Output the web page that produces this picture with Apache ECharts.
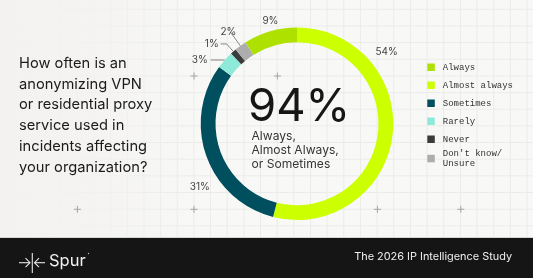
<!DOCTYPE html>
<html>
<head>
<meta charset="utf-8">
<script src="https://cdn.jsdelivr.net/npm/echarts@6/dist/echarts.min.js"></script>
<style>
html, body { margin: 0; padding: 0; }
body {
  width: 533px; height: 278px; overflow: hidden;
  background-color: #f8f8f7;
  background-image:
    linear-gradient(to right, rgba(243,242,240,1) 0px, rgba(243,242,240,0.8) 90px, rgba(243,242,240,0) 200px),
    linear-gradient(to right, #ebebea 1px, transparent 1px),
    linear-gradient(to bottom, #ebebea 1px, transparent 1px);
  background-size: 100% 100%, 16.667px 16.667px, 16.667px 16.667px;
  background-position: 0 0, 10.2px 0, 0 8.8px;
}
#c { width: 533px; height: 278px; }
</style>
</head>
<body>
<div id="c"></div>
<script>
// ---- data ----
const categories = ['Always', 'Almost always', 'Sometimes', 'Rarely', 'Never', "Don't know/Unsure"];
const values = [9, 54, 31, 3, 1, 2];
const headlineValue = '94%';
const headlineCaption = 'Always,\nAlmost Always,\nor Sometimes';
const question = 'How often is an\nanonymizing VPN\nor residential proxy\nservice used in\nincidents affecting\nyour organization?';
const brandName = 'Spur';
const footerTitle = 'The 2026 IP Intelligence Study';

// ---- styles ----
const colors = ['#aee000', '#ccff00', '#004f5f', '#8eead8', '#3b3b3b', '#adadad'];
const labelStyle = {
  'Always':            { line: false, len: 8,  len2: 0,  dist: 0, offset: [10.5, -2.5] },
  'Almost always':     { line: false, len: 8,  len2: 0,  dist: 0, offset: [-25, -85] },
  'Sometimes':         { line: false, len: 8,  len2: 0,  dist: 0, offset: [11, 28.4] },
  'Rarely':            { line: true,  len: 0,  len2: 14, dist: 3 },
  'Never':             { line: true,  len: 10, len2: 6,  dist: 2 },
  "Don't know/Unsure": { line: true,  len: 17, len2: 0,  dist: -6 }
};
const total = values.reduce((a, b) => a + b, 0);
const startAngle = 90 + values[0] / total * 360;

const pieData = categories.map((name, i) => {
  const s = labelStyle[name];
  return {
    name: name,
    value: values[i],
    itemStyle: { color: colors[i] },
    label: { distanceToLabelLine: s.dist },
    labelLine: { show: s.line, length: s.len, length2: s.len2 }
  };
});

const plusMarks = [[194, 76], [277.4, 76], [77.4, 209.3], [194, 209.3], [377.4, 209.3], [460.8, 209.3]];
const graphics = [];
plusMarks.forEach(p => {
  graphics.push({ type: 'line', silent: true, z: -1, shape: { x1: p[0] - 3.5, y1: p[1], x2: p[0] + 3.5, y2: p[1] }, style: { stroke: '#a5a5a5', lineWidth: 1 } });
  graphics.push({ type: 'line', silent: true, z: -1, shape: { x1: p[0], y1: p[1] - 3.5, x2: p[0], y2: p[1] + 3.5 }, style: { stroke: '#a5a5a5', lineWidth: 1 } });
});
// question
graphics.push({ type: 'text', style: { text: question, x: 19, y: 52.8, fontFamily: 'Inter', fontSize: 14.7, fontWeight: 400, lineHeight: 20.9, fill: '#1b1b1b', align: 'left', verticalAlign: 'top' } });
// center headline
graphics.push({ type: 'text', style: { text: headlineValue, x: 248, y: 107, fontFamily: 'Inter', fontSize: 45.5, fontWeight: 400, fill: '#161616', align: 'left', verticalAlign: 'middle' } });
graphics.push({ type: 'text', style: { text: headlineCaption, x: 251.5, y: 129.7, fontFamily: 'Inter', fontSize: 12.1, lineHeight: 14, fill: '#363636', align: 'left', verticalAlign: 'top' } });
// footer
graphics.push({ type: 'rect', shape: { x: 0, y: 238, width: 533, height: 40 }, style: { fill: '#151515' } });
graphics.push({ type: 'line', shape: { x1: 0, y1: 237.5, x2: 533, y2: 237.5 }, style: { stroke: '#d6d6d6', lineWidth: 1 } });
const logoStroke = { stroke: '#e8e8e8', lineWidth: 1.1, fill: null };
graphics.push({ type: 'line', shape: { x1: 32.3, y1: 253, x2: 32.3, y2: 273 }, style: logoStroke });
graphics.push({ type: 'polyline', shape: { points: [[19, 262.7], [30, 262.7]] }, style: logoStroke });
graphics.push({ type: 'polyline', shape: { points: [[25.5, 258.2], [30, 262.7], [25.5, 267.2]] }, style: logoStroke });
graphics.push({ type: 'polyline', shape: { points: [[45, 262.7], [34.5, 262.7]] }, style: logoStroke });
graphics.push({ type: 'polyline', shape: { points: [[39, 258.2], [34.5, 262.7], [39, 267.2]] }, style: logoStroke });
graphics.push({ type: 'text', style: { text: brandName, x: 49, y: 261, fontFamily: 'Inter', fontSize: 16.5, fill: '#f2f2f2', align: 'left', verticalAlign: 'middle' } });
graphics.push({ type: 'circle', shape: { cx: 88.5, cy: 253.5, r: 0.7 }, style: { fill: '#bbbbbb' } });
graphics.push({ type: 'text', style: { text: footerTitle, x: 512, y: 256.5, fontFamily: 'Inter', fontSize: 10.9, fill: '#f0f0f0', align: 'right', verticalAlign: 'middle' } });

const legendText = { fontFamily: 'Liberation Mono', fontSize: 9, lineHeight: 10.5, color: '#333333', padding: [0, 0, 0, 3] };
const legendFormat = name => name.replace('/', '/\n');

const chart = echarts.init(document.getElementById('c'), null, { renderer: 'canvas' });
chart.setOption({
  backgroundColor: 'transparent',
  animation: false,
  legend: [
    {
      orient: 'vertical', left: 422.3, top: 57, padding: 5, itemWidth: 7.5, itemHeight: 7.5, itemGap: 7.5,
      icon: 'rect', selectedMode: false,
      data: categories.slice(0, 5),
      textStyle: legendText
    },
    {
      orient: 'vertical', left: 422.3, top: 137.8, padding: 5, itemWidth: 7.5, itemHeight: 7.5,
      icon: 'rect', selectedMode: false,
      data: categories.slice(5),
      formatter: legendFormat,
      textStyle: Object.assign({}, legendText, { padding: [10.5, 0, 0, 3] })
    }
  ],
  graphic: graphics,
  series: [{
    type: 'pie',
    center: [297, 123.7],
    radius: [81.5, 96.3],
    startAngle: startAngle,
    clockwise: true,
    avoidLabelOverlap: false,
    emphasis: { disabled: true },
    label: {
      show: true, position: 'outside', formatter: '{c}%',
      fontFamily: 'Inter', fontSize: 10, color: '#444444'
    },
    labelLine: { lineStyle: { color: '#6a6a6a', width: 0.8 }, smooth: false },
    labelLayout: function (params) {
      const s = labelStyle[categories[params.dataIndex]];
      if (s && s.offset) return { dx: s.offset[0], dy: s.offset[1] };
      return {};
    },
    data: pieData
  }]
});
</script>
</body>
</html>
